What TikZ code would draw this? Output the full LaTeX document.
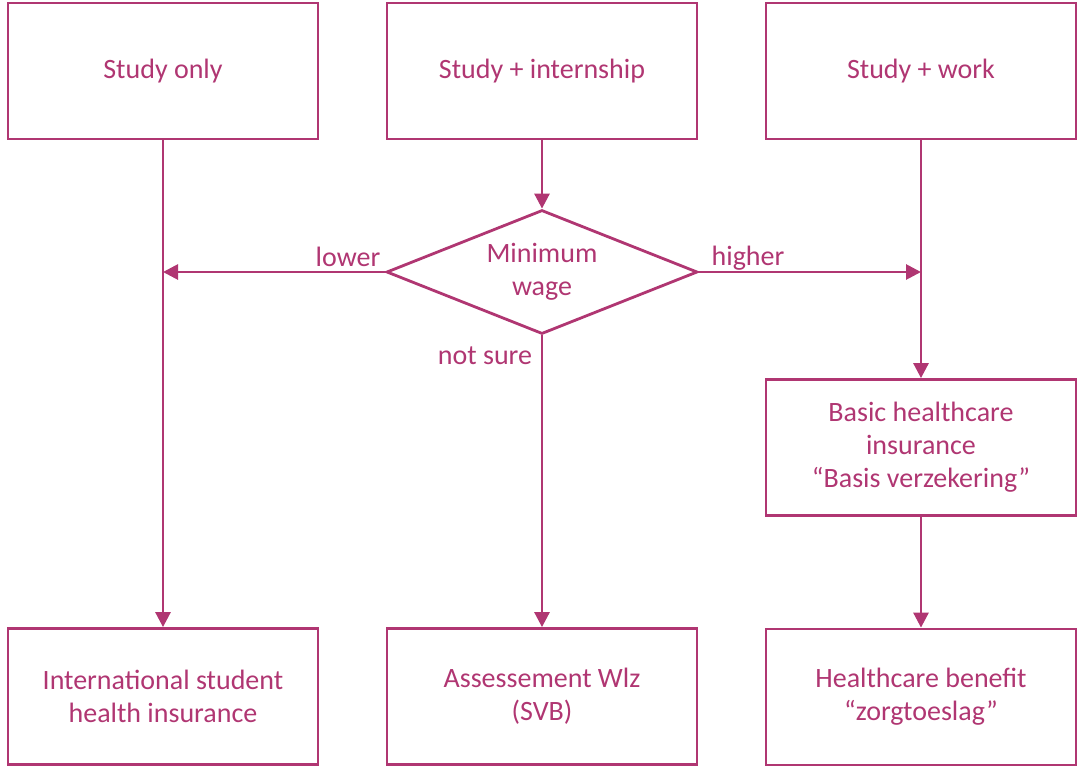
\documentclass[tikz,border=0pt]{standalone}
\usepackage{fontspec}
\setmainfont{Carlito}
\usetikzlibrary{arrows.meta, shapes.geometric}
\definecolor{wine}{RGB}{176,54,114}

\begin{document}
\begin{tikzpicture}[
    x=0.5pt, y=-0.5pt,
    box/.style={rectangle, draw=wine, line width=1.4pt, minimum width=155pt, minimum height=68pt, align=center, text=wine, font=\fontsize{14}{16.5}\selectfont},
    choice/.style={diamond, aspect=2.5, draw=wine, line width=1.4pt, minimum width=155.5pt, minimum height=62pt, inner sep=0pt, align=center, text=wine, font=\fontsize{14}{16.5}\selectfont},
    flow/.style={-{Triangle[length=7.5pt,width=7.5pt]}, draw=wine, line width=1.4pt},
    tag/.style={text=wine, font=\fontsize{14}{16.5}\selectfont, inner sep=0pt}
]
\useasboundingbox (0,0) rectangle (1078,767);

% Top row
\node[box] (studyonly) at (163,71) {Study only};
\node[box] (internship) at (542,71) {Study + internship};
\node[box] (studywork) at (921,71) {Study + work};

% Decision
\node[choice] (minwage) at (542,272) {Minimum\\wage};

% Results
\node[box] (basic) at (921,447.5) {Basic healthcare\\insurance\\``Basis verzekering''};
\node[box] (intl) at (163,696.5) {International student\\health insurance};
\node[box] (wlz) at (542,696.5) {Assessement Wlz\\(SVB)};
\node[box] (benefit) at (921,697) {Healthcare benefit\\``zorgtoeslag''};

% Labels
\node[tag] (lowtag) at (348,257) {lower};
\node[tag] (hightag) at (748,258) {higher};
\node[tag] (unsuretag) at (485,356) {not sure};

% Flows
\draw[flow] (studyonly) -- (intl);
\draw[flow] (internship) -- (minwage);
\draw[flow] (minwage.west) -- (minwage.west -| studyonly.south);
\draw[flow] (minwage.east) -- (minwage.east -| studywork.south);
\draw[flow] (minwage) -- (wlz);
\draw[flow] (studywork) -- (basic);
\draw[flow] (basic) -- (benefit);

\end{tikzpicture}
\end{document}
